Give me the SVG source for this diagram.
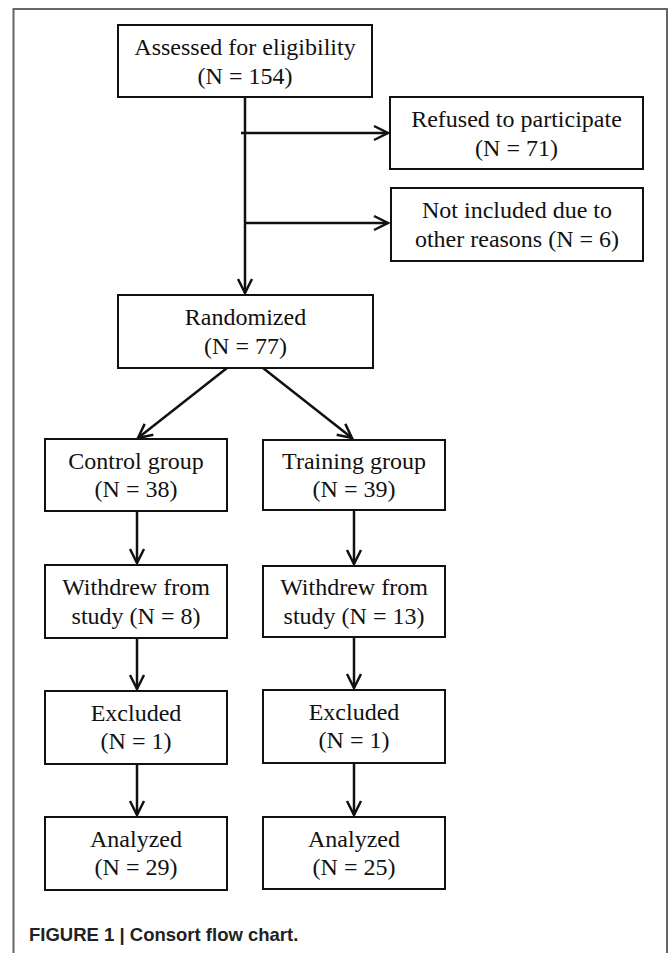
<svg xmlns="http://www.w3.org/2000/svg" width="669" height="953" viewBox="0 0 669 953">
<style>
.box{fill:#fff;stroke:#111;stroke-width:2}
.t{font-family:"Liberation Serif","Times New Roman",serif;font-size:24px;fill:#111;text-anchor:middle}
.c{fill:none;stroke:#111;stroke-width:2.5}
.frame{fill:none;stroke:#666;stroke-width:2}
.cap{font-family:"Liberation Sans",Arial,sans-serif;font-weight:bold;font-size:18.5px;fill:#222}
</style>
<defs>
<marker id="arr" markerUnits="userSpaceOnUse" viewBox="-16 -10 20 20" refX="0" refY="0" markerWidth="20" markerHeight="20" orient="auto">
<path d="M-14,-7 L0,0 L-14,7" fill="none" stroke="#111" stroke-width="2.5"/>
</marker>
</defs>
<rect width="669" height="953" fill="#fff"/>
<path class="frame" d="M13.5,953 V9 H667 V953"/>
<g id="connectors">
<path class="c" d="M245,97 V293" marker-end="url(#arr)"/>
<path class="c" d="M241,133 H388" marker-end="url(#arr)"/>
<path class="c" d="M245,223 H388" marker-end="url(#arr)"/>
<path class="c" d="M227,368 L138,438" marker-end="url(#arr)"/>
<path class="c" d="M263,368 L352,438" marker-end="url(#arr)"/>
<path class="c" d="M137,511 V563" marker-end="url(#arr)"/>
<path class="c" d="M137,638 V689" marker-end="url(#arr)"/>
<path class="c" d="M137,764 V815" marker-end="url(#arr)"/>
<path class="c" d="M354,510 V564" marker-end="url(#arr)"/>
<path class="c" d="M354,637 V688" marker-end="url(#arr)"/>
<path class="c" d="M354,763 V815" marker-end="url(#arr)"/>
</g>
<g id="assessed"><rect class="box" x="118" y="25" width="254" height="72"/><text class="t" x="245" y="55">Assessed for eligibility</text><text class="t" x="245" y="84">(N = 154)</text></g>
<g id="refused"><rect class="box" x="390" y="97" width="253" height="72"/><text class="t" x="516.5" y="127">Refused to participate</text><text class="t" x="516.5" y="156">(N = 71)</text></g>
<g id="notincluded"><rect class="box" x="391" y="188" width="252" height="73"/><text class="t" x="517" y="218">Not included due to</text><text class="t" x="517" y="247">other reasons (N = 6)</text></g>
<g id="randomized"><rect class="box" x="118" y="295" width="255" height="73"/><text class="t" x="245.5" y="325">Randomized</text><text class="t" x="245.5" y="354">(N = 77)</text></g>
<g id="control"><rect class="box" x="45" y="439" width="182" height="72"/><text class="t" x="136" y="469">Control group</text><text class="t" x="136" y="497">(N = 38)</text></g>
<g id="training"><rect class="box" x="263" y="440" width="182" height="70"/><text class="t" x="354" y="469">Training group</text><text class="t" x="354" y="497">(N = 39)</text></g>
<g id="withdrew-control"><rect class="box" x="45" y="565" width="182" height="73"/><text class="t" x="136" y="595">Withdrew from</text><text class="t" x="136" y="624">study (N = 8)</text></g>
<g id="withdrew-training"><rect class="box" x="263" y="566" width="182" height="71"/><text class="t" x="354" y="595">Withdrew from</text><text class="t" x="354" y="624">study (N = 13)</text></g>
<g id="excluded-control"><rect class="box" x="45" y="691" width="182" height="73"/><text class="t" x="136" y="721">Excluded</text><text class="t" x="136" y="749">(N = 1)</text></g>
<g id="excluded-training"><rect class="box" x="263" y="690" width="182" height="73"/><text class="t" x="354" y="720">Excluded</text><text class="t" x="354" y="748">(N = 1)</text></g>
<g id="analyzed-control"><rect class="box" x="45" y="817" width="182" height="73"/><text class="t" x="136" y="847">Analyzed</text><text class="t" x="136" y="875">(N = 29)</text></g>
<g id="analyzed-training"><rect class="box" x="263" y="817" width="182" height="72"/><text class="t" x="354" y="847">Analyzed</text><text class="t" x="354" y="875">(N = 25)</text></g>
<text class="cap" x="29" y="941">FIGURE 1 | Consort flow chart.</text>
</svg>
